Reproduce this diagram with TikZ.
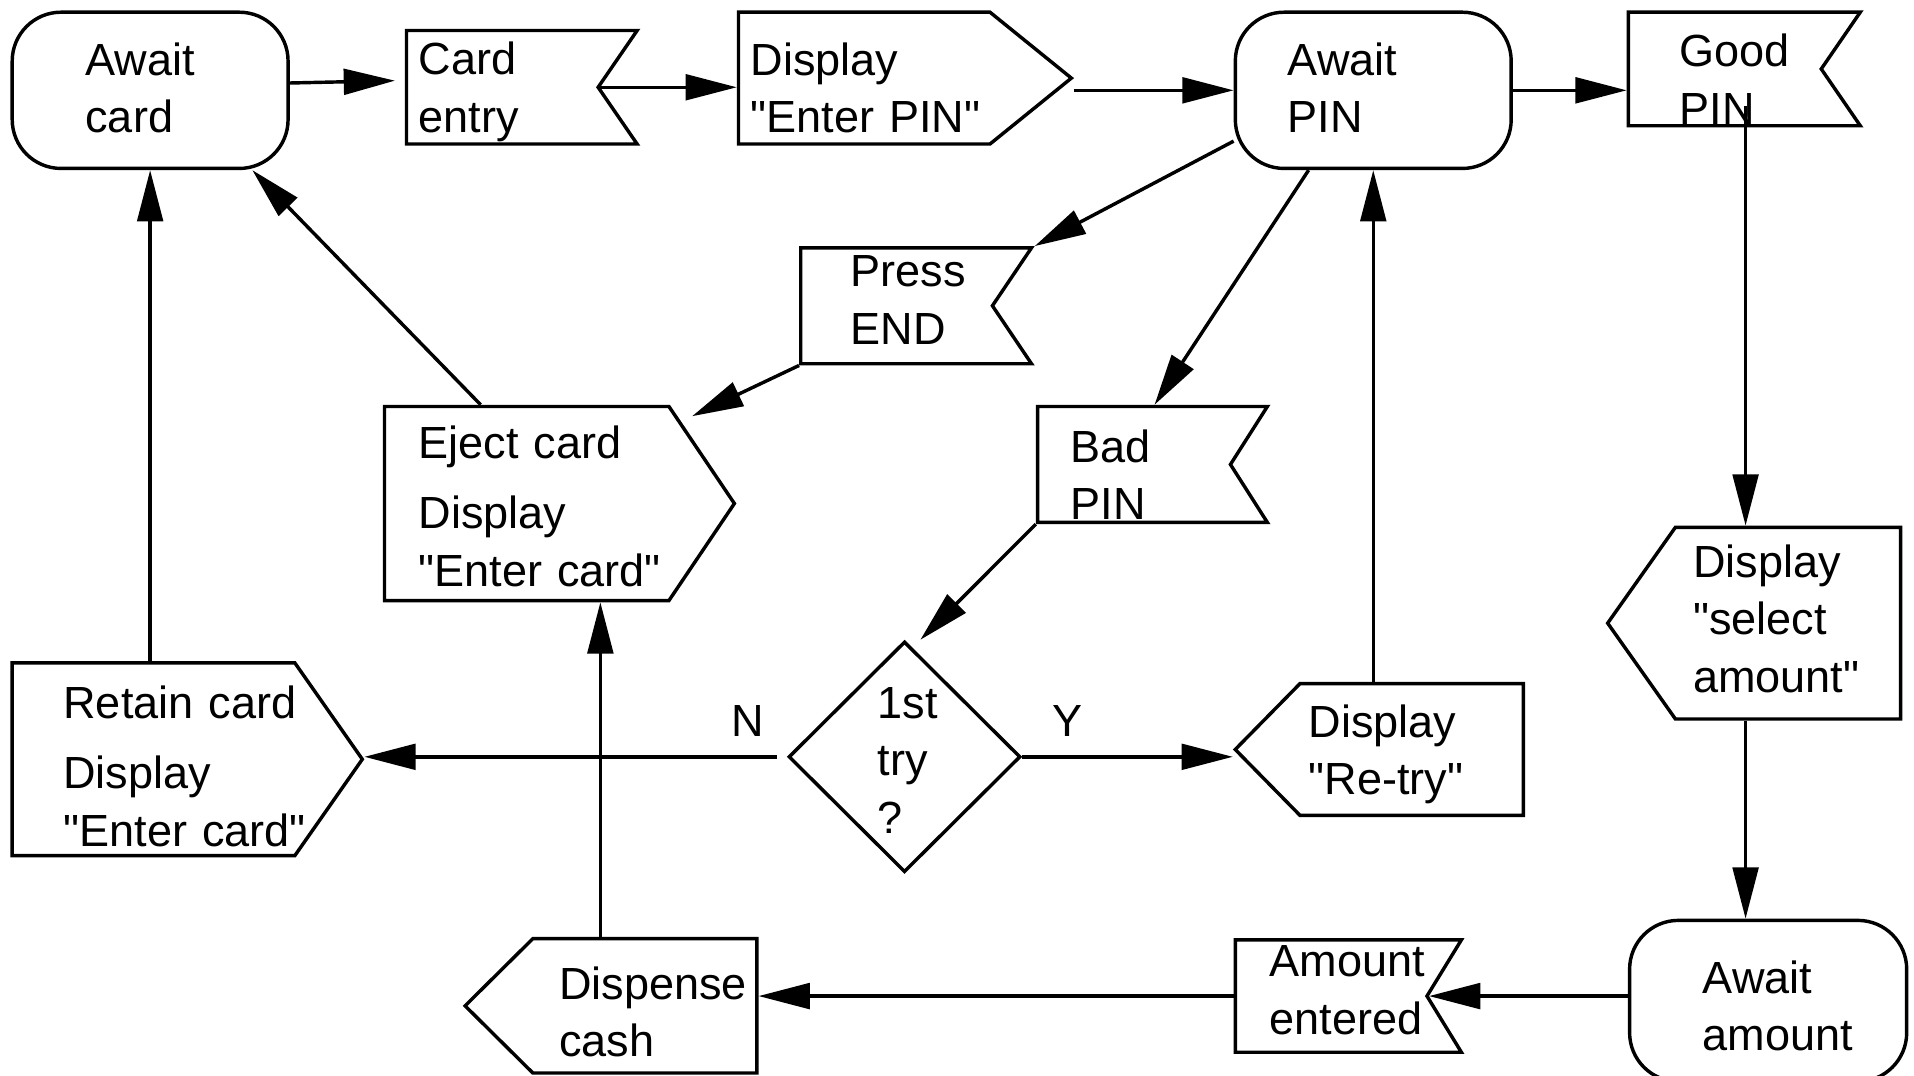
\documentclass[tikz,border=0pt]{standalone}
\usepackage{fontspec}
\setmainfont{Liberation Sans}
\usetikzlibrary{shapes.geometric, shapes.symbols, arrows.meta}
\newcommand{\dq}{\textquotedbl}
% keep every line of a box on one line
\hyphenpenalty=10000
\exhyphenpenalty=10000

\begin{document}
\begin{tikzpicture}[
    line width=0.8pt,
    >={Triangle[length=4.2mm,width=2.1mm]},
    base/.style={draw, inner sep=0pt, align=left, text height=0pt, font=\fontsize{10.5}{13.4}\selectfont},
    state/.style={base, rectangle, rounded corners=0.4cm},
    flag/.style={base, signal, signal to=nowhere, signal from=east},
    outR/.style={base, signal, signal to=east},
    outL/.style={base, signal, signal to=west},
    test/.style={base, diamond},
    lbl/.style={font=\fontsize{10.5}{13.4}\selectfont, inner sep=0pt},
  ]
  \useasboundingbox (0,0) rectangle (15.68,-8.81);
  \clip (0,0) rectangle (15.68,-8.81);

  % top row
  \node[state, minimum width=2.26cm, minimum height=1.28cm, text width=1.06cm, text depth=6.94pt] (awaitcard) at (1.23,-0.74) {Await\\card};
  \node[flag, minimum height=0.93cm, signal pointer angle=111, inner xsep=0.10cm, text width=1.37cm, text depth=5.8pt] (cardentry) at (4.115,-0.715) {Card\\entry};
  \node[outR, minimum height=1.08cm, signal pointer angle=78, inner xsep=0.10cm, text width=1.86cm, text depth=1.24pt] (showpin) at (7.08,-0.64) {Display\\\dq Enter~PIN\dq};
  \node[state, minimum width=2.26cm, minimum height=1.28cm, text width=1.40cm, text depth=6.94pt] (awaitpin) at (11.25,-0.74) {Await\\PIN};
  \node[flag, minimum height=0.93cm, signal pointer angle=111, inner xsep=0.42cm, text width=0.74cm, text depth=0.96pt] (goodpin) at (14.13,-0.565) {Good\\PIN};

  % PIN checks
  \node[flag, minimum height=0.95cm, signal pointer angle=112, inner xsep=0.41cm, text width=0.75cm, text depth=8.92pt] (pressend) at (7.345,-2.505) {Press\\END};
  \node[outR, minimum height=1.59cm, signal pointer angle=112, inner xsep=0.28cm, text width=1.77cm, text depth=21.06pt] (eject) at (4.315,-4.125) {Eject~card\\[3pt]Display\\\dq Enter~card\dq};
  \node[flag, minimum height=0.95cm, signal pointer angle=115, inner xsep=0.27cm, text width=1.04cm, text depth=0.96pt] (badpin) at (9.29,-3.805) {Bad\\PIN};
  \node[test, minimum width=1.90cm, minimum height=1.89cm, text width=0.44cm, text depth=18.06pt] (firsttry) at (7.41,-6.20) {1st\\try\\?};
  \node[outL, minimum height=1.08cm, signal pointer angle=91, inner xsep=0.07cm, text width=1.69cm, text depth=5.8pt] (retry) at (11.565,-6.14) {Display\\\dq Re-try\dq};
  \node[outR, minimum height=1.58cm, signal pointer angle=110, inner xsep=0.42cm, text width=1.475cm, text depth=19.08pt] (retain) at (1.2575,-6.22) {Retain~card\\[3pt]Display\\\dq Enter~card\dq};

  % amount and cash
  \node[outL, minimum height=1.57cm, signal pointer angle=109.5, inner xsep=0.145cm, text width=1.555cm, text depth=21.48pt] (selamt) at (14.6475,-5.105) {Display\\\dq select\\amount\dq};
  \node[state, minimum width=2.27cm, minimum height=1.32cm, text width=1.07cm, text depth=3.52pt] (awaitamt) at (14.485,-8.20) {Await\\amount};
  \node[flag, minimum height=0.92cm, signal pointer angle=117, inner xsep=0.28cm, text width=1.01cm, text depth=8.92pt] (amtent) at (10.905,-8.16) {Amount\\entered};
  \node[outL, minimum height=1.10cm, signal pointer angle=89.5, inner xsep=0.215cm, text width=1.405cm, text depth=2.96pt] (dispense) at (5.2825,-8.24) {Dispense\\cash};

  \coordinate (col) at ([xshift=0.17cm]goodpin.center);

  \draw[->, shorten >=0.08cm] (awaitcard.3) -- (cardentry.176);
  \draw[->] (cardentry.east) -- (cardentry.east -| showpin.west);
  \draw[->] (awaitpin.west -| showpin.east) -- (awaitpin.west);
  \draw[->] (awaitpin.east) -- (awaitpin.east -| goodpin.west);
  \draw[->, shorten <=0.3cm] (col) -- (col |- selamt.north);
  \draw[->] (col |- selamt.south) -- (col |- awaitamt.north);
  \draw[->] (amtent.east -| awaitamt.west) -- (amtent.east);
  \draw[->] (amtent.west) -- (amtent.west -| dispense.east);
  \draw[->] (dispense.123) -- (dispense.123 |- eject.south);
  \draw[->, shorten <=0.08cm] (firsttry.west) -- (firsttry.west -| retain.east) node[lbl, pos=0.092, above=0.15cm] (no) {N};
  \draw[->] (firsttry.east) -- (firsttry.east -| retry.west) node[lbl, pos=0.215, above=0.15cm] (yes) {Y};
  \draw[->] (awaitcard.south |- retain.north) -- (awaitcard.south);
  \draw[->] (eject.115) -- (awaitcard.-38);
  \draw[->] (awaitpin.200) -- (pressend.north east);
  \draw[->, shorten >=0.1cm] (pressend.south west) -- (eject.28);
  \draw[->] (awaitpin.-129) -- (badpin.71);
  \draw[->] (badpin.south west) -- ([xshift=0.13cm]firsttry.north);
  \draw[->] (awaitpin.south |- retry.north) -- (awaitpin.south);
\end{tikzpicture}
\end{document}
